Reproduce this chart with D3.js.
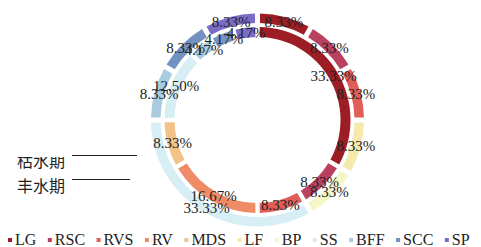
<html>
<head>
  <meta charset="utf-8">
  <script src="https://cdn.jsdelivr.net/npm/d3@7"></script>
  <style>
    body { margin: 0; background: #fff; }
    text { font-family: "Liberation Serif", "Times New Roman", serif; fill: #222; }
  </style>
</head>
<body>
  <div id="chart"></div>
  <script>
    const categories = ["LG", "RSC", "RVS", "RV", "MDS", "LF", "BP", "SS", "BFF", "SCC", "SP"];
    const colors = ["#9c1d25", "#b9415f", "#e15e58", "#ef8b66", "#f3c289", "#f5e9ad", "#f6f6c8", "#d7eef4", "#a9cce1", "#7492c1", "#7a6bc7"];
    const seriesNames = ["枯水期", "丰水期"];
    // outer ring
    const dryValues = [8.33, 8.33, 8.33, 0, 0, 8.33, 8.33, 33.33, 8.33, 8.33, 8.33];
    // inner ring
    const wetValues = [33.33, 8.33, 8.33, 16.67, 8.33, 0, 0, 12.50, 4.17, 4.17, 4.17];

    const W = 481, H = 247;
    const cx = 257.5, cy = 120;

    const svg = d3.select("#chart").append("svg")
      .attr("width", W).attr("height", H);

    const color = d3.scaleOrdinal().domain(categories).range(colors);
    const pie = d3.pie().sort(null).value(d => d.v);

    const rings = [
      { values: dryValues, inner: 97, outer: 106.5 },
      { values: wetValues, inner: 83, outer: 93 }
    ];

    const g = svg.append("g").attr("transform", `translate(${cx},${cy})`);

    rings.forEach(ring => {
      const data = categories.map((c, i) => ({ c: c, v: ring.values[i] }));
      const arc = d3.arc().innerRadius(ring.inner).outerRadius(ring.outer).padAngle(0.035);
      const arcs = pie(data).filter(d => d.data.v > 0);
      ring.arcs = arcs;
      ring.arc = arc;
      g.append("g").selectAll("path")
        .data(arcs)
        .enter()
        .append("path")
        .attr("d", arc)
        .attr("fill", d => color(d.data.c));
    });

    // labels on top of both rings
    rings.forEach(ring => {
      g.append("g").selectAll("text")
        .data(ring.arcs)
        .enter()
        .append("text")
        .attr("transform", d => `translate(${ring.arc.centroid(d)})`)
        .attr("text-anchor", "middle")
        .attr("dominant-baseline", "central")
        .style("font-size", "15px")
        .text(d => d.data.v.toFixed(2) + "%");
    });

    // series labels on the left (top one is cut off like in the original)
    svg.append("clipPath").attr("id", "clipTop")
      .append("rect").attr("x", 0).attr("y", 157).attr("width", 140).attr("height", 60);
    const sl = svg.append("g").attr("clip-path", "url(#clipTop)");
    const textY = [167, 192];
    const lineY = [155, 179];
    const lineEnd = [137, 130];
    seriesNames.forEach((s, i) => {
      sl.append("text")
        .attr("x", 17).attr("y", textY[i])
        .style("font-family", "'Noto Sans CJK SC', sans-serif")
        .style("font-size", "16px")
        .text(s);
    });
    seriesNames.forEach((s, i) => {
      svg.append("line")
        .attr("x1", 72).attr("x2", lineEnd[i])
        .attr("y1", lineY[i] + 0.5).attr("y2", lineY[i] + 0.5)
        .attr("stroke", "#222").attr("stroke-width", 1);
    });

    // legend
    const legend = svg.append("g");
    let lx = 8;
    categories.forEach(c => {
      const item = legend.append("g");
      item.append("rect")
        .attr("x", lx).attr("y", 238).attr("width", 4).attr("height", 4)
        .attr("fill", color(c));
      const t = item.append("text")
        .attr("x", lx + 7).attr("y", 245)
        .style("font-size", "16px")
        .text(c);
      lx += 7 + t.node().getComputedTextLength() + 11.5;
    });
  </script>
</body>
</html>
